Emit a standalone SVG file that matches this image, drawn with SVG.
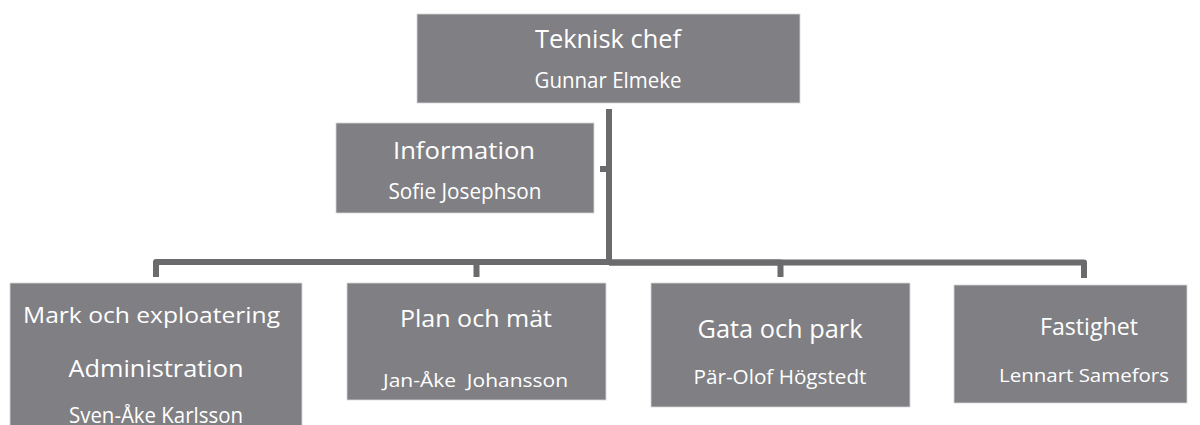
<svg xmlns="http://www.w3.org/2000/svg" width="1200" height="425" viewBox="0 0 1200 425">
<style>
.box{fill:#807f84;stroke:#d6d6d8;stroke-width:0.8}
.t{font-family:"Open Sans",Lato,"Liberation Sans",sans-serif;fill:#ffffff;text-anchor:middle}
.c{fill:none;stroke:#6b6b6d;stroke-width:6;stroke-linejoin:round}
</style>
<rect width="1200" height="425" fill="#ffffff"/>
<g id="connectors">
<path class="c" d="M609,109 V265"/>
<path class="c" d="M609,169 H600"/>
<path class="c" d="M609,262 H156 V277"/>
<path class="c" d="M609,262 H476.5 V277"/>
<path class="c" d="M609,262.5 H780.5 V277"/>
<path class="c" d="M609,262.5 H1084 V278"/>
</g>
<g id="n-teknisk">
<rect class="box" x="417" y="14" width="383" height="89"/>
<text class="t" x="608" y="48" font-size="25.5" textLength="146" lengthAdjust="spacingAndGlyphs">Teknisk chef</text>
<text class="t" x="608" y="88" font-size="21" textLength="147" lengthAdjust="spacingAndGlyphs">Gunnar Elmeke</text>
</g>
<g id="n-information">
<rect class="box" x="336" y="123" width="258" height="90"/>
<text class="t" x="464" y="159" font-size="24" textLength="142" lengthAdjust="spacingAndGlyphs">Information</text>
<text class="t" x="465" y="199" font-size="21" textLength="153" lengthAdjust="spacingAndGlyphs">Sofie Josephson</text>
</g>
<g id="n-mark">
<rect class="box" x="10" y="283" width="292" height="150"/>
<text class="t" x="151.5" y="323" font-size="22.5" textLength="257" lengthAdjust="spacingAndGlyphs">Mark och exploatering</text>
<text class="t" x="156" y="377" font-size="23" textLength="175" lengthAdjust="spacingAndGlyphs">Administration</text>
<text class="t" x="156" y="423" font-size="21" textLength="174" lengthAdjust="spacingAndGlyphs">Sven-Åke Karlsson</text>
</g>
<g id="n-plan">
<rect class="box" x="347" y="283" width="259" height="117"/>
<text class="t" x="476" y="327" font-size="24" textLength="152" lengthAdjust="spacingAndGlyphs">Plan och mät</text>
<text class="t" x="475.5" y="387" font-size="18.5" textLength="185" lengthAdjust="spacingAndGlyphs" xml:space="preserve">Jan-Åke  Johansson</text>
</g>
<g id="n-gata">
<rect class="box" x="651" y="283" width="259" height="124"/>
<text class="t" x="780" y="338" font-size="25" textLength="165" lengthAdjust="spacingAndGlyphs">Gata och park</text>
<text class="t" x="780" y="384" font-size="19.5" textLength="173" lengthAdjust="spacingAndGlyphs">Pär-Olof Högstedt</text>
</g>
<g id="n-fastighet">
<rect class="box" x="954" y="285" width="233" height="118"/>
<text class="t" x="1089" y="335" font-size="24.5" textLength="98" lengthAdjust="spacingAndGlyphs">Fastighet</text>
<text class="t" x="1084" y="382" font-size="18.5" textLength="170" lengthAdjust="spacingAndGlyphs">Lennart Samefors</text>
</g>
</svg>
